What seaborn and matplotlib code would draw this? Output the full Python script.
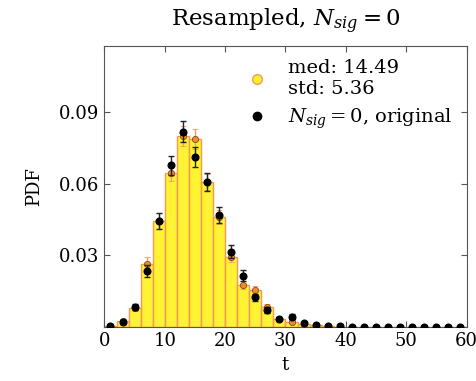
import numpy as np
import pandas as pd
import matplotlib
matplotlib.use("Agg")
import matplotlib.pyplot as plt
from matplotlib.lines import Line2D
import seaborn as sns

# Bin edges (width 2) and bin centres on t
bin_edges = list(range(0, 62, 2))
bin_centers = [e + 1 for e in bin_edges[:-1]]

# Resampled PDF per bin
resampled_pdf = [0.0004, 0.0025, 0.0080, 0.0266, 0.0444, 0.0647, 0.0800, 0.0788,
                 0.0608, 0.0462, 0.0295, 0.0177, 0.0155, 0.0083, 0.0032, 0.0022,
                 0.0013, 0.0006, 0.0003, 0.0001, 0.0001, 0.0, 0.0, 0.0,
                 0.0, 0.0, 0.0, 0.0, 0.0, 0.0]
resampled_err = [0.0003, 0.0008, 0.0012, 0.0028, 0.0032, 0.0036, 0.0042, 0.0042,
                 0.0035, 0.0030, 0.0024, 0.0017, 0.0016, 0.0012, 0.0007, 0.0006,
                 0.0004, 0.0003, 0.0002, 0.0001, 0.0001, 0.0, 0.0, 0.0,
                 0.0, 0.0, 0.0, 0.0, 0.0, 0.0]

# Original PDF per bin
original_pdf = [0.0003, 0.0020, 0.0083, 0.0235, 0.0445, 0.0679, 0.0820, 0.0714,
                0.0608, 0.0470, 0.0316, 0.0215, 0.0124, 0.0071, 0.0035, 0.0043,
                0.0015, 0.0008, 0.0004, 0.0002, 0.0001, 0.0001, 0.0001, 0.0001,
                0.0001, 0.0001, 0.0001, 0.0001, 0.0001, 0.0001]
original_err = [0.0003, 0.0008, 0.0014, 0.0025, 0.0033, 0.0040, 0.0045, 0.0042,
                0.0038, 0.0033, 0.0027, 0.0022, 0.0016, 0.0012, 0.0008, 0.0010,
                0.0005, 0.0004, 0.0003, 0.0002, 0.0001, 0.0, 0.0, 0.0,
                0.0, 0.0, 0.0, 0.0, 0.0, 0.0]

median_label = "med: 14.49\nstd: 5.36"
original_label = r"$N_{sig}=0$, original"
title_text = r"Resampled, $N_{sig}=0$"

sns.set_style("ticks")
plt.rcParams["font.family"] = ["DejaVu Serif"]
plt.rcParams["mathtext.fontset"] = "dejavuserif"
plt.rcParams["text.color"] = "black"
plt.rcParams["axes.labelcolor"] = "black"
plt.rcParams["xtick.labelcolor"] = "black"
plt.rcParams["ytick.labelcolor"] = "black"

fig = plt.figure(figsize=(4.77, 3.81), dpi=100)
ax = fig.add_axes([0.219, 0.142, 0.759, 0.738])

df = pd.DataFrame({"t": bin_centers, "pdf": resampled_pdf})
sns.histplot(data=df, x="t", weights="pdf", bins=bin_edges, stat="count",
             color="#fff000", alpha=0.8, edgecolor="#f29a50", linewidth=1.0,
             ax=ax)

ax.errorbar(bin_centers, resampled_pdf, yerr=resampled_err, fmt="o",
            ms=4.5, mfc="#f08a30", mec="#8a4a10", mew=0.6,
            ecolor="#f0a060", elinewidth=1.0, capsize=2.5, zorder=3)
ax.errorbar(bin_centers, original_pdf, yerr=original_err, fmt="o",
            ms=4.8, mfc="black", mec="black",
            ecolor="#222222", elinewidth=1.0, capsize=2.5, zorder=4)

ax.set_xlim(0, 60)
ax.set_ylim(0, 0.118)
ax.set_xticks([0, 10, 20, 30, 40, 50, 60])
ax.set_yticks([0.03, 0.06, 0.09])
ax.set_yticklabels(["0.03", "0.06", "0.09"])
ax.tick_params(direction="in", top=True, right=True, labelsize=13,
               length=4, color="#555555", pad=4)
for sp in ax.spines.values():
    sp.set_color("#555555")
    sp.set_visible(True)

ax.set_xlabel("t", fontsize=13, labelpad=4)
ax.set_ylabel("PDF", fontsize=13, labelpad=11)
ax.set_title(title_text, fontsize=16.5, pad=14)

handles = [
    Line2D([], [], ls="none", marker="o", ms=7, mfc="#ffee33", mec="#f0a050", mew=1.0),
    Line2D([], [], ls="none", marker="o", ms=6, mfc="black", mec="black"),
]
ax.legend(handles, [median_label, original_label], loc="upper right",
          frameon=False, fontsize=14, handletextpad=1.0, handlelength=1.2,
          borderaxespad=0.0, borderpad=0.7, labelspacing=0.45)

fig.savefig("out.png", dpi=100)
